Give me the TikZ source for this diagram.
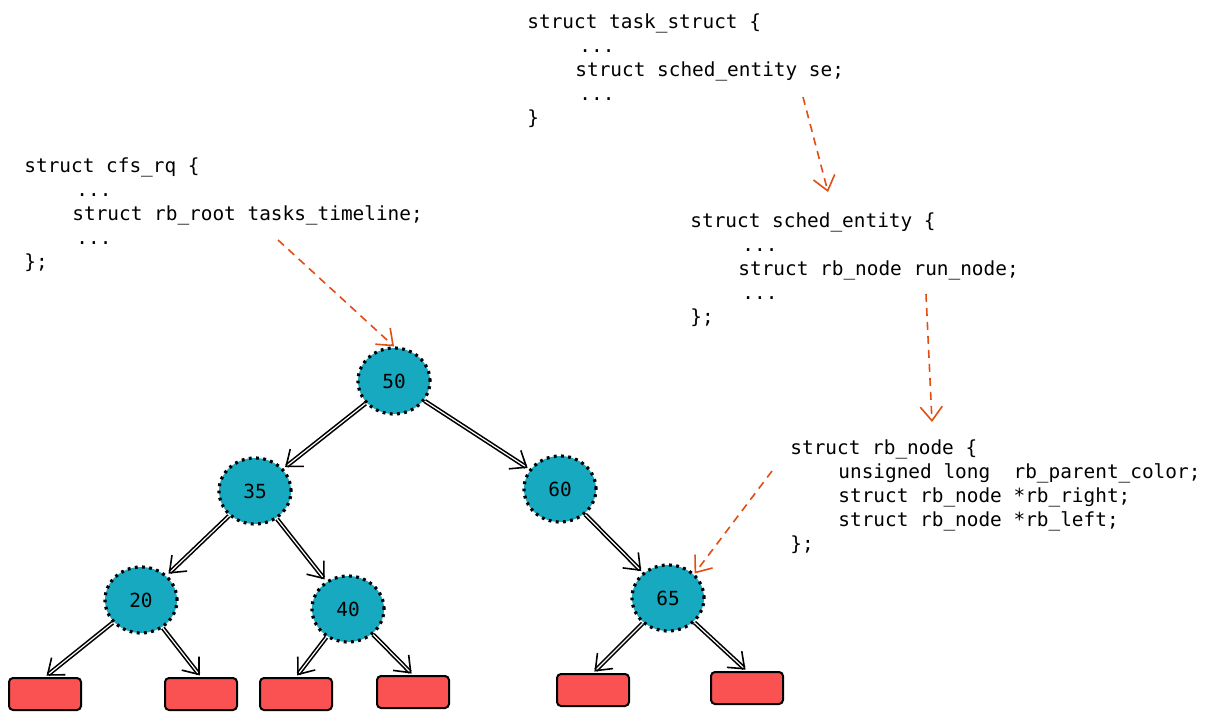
\documentclass[tikz,border=0pt]{standalone}
\usepackage{fontspec}
\setmonofont{DejaVu Sans Mono}
\usetikzlibrary{arrows.meta,shapes.geometric}
\definecolor{treeteal}{HTML}{16A9BF}
\definecolor{leafred}{HTML}{FA5252}
\definecolor{ptrorange}{HTML}{E04E14}
\tikzset{
  code/.style={anchor=north west, inner sep=0pt, align=left, font=\ttfamily\fontsize{9.7}{12}\selectfont},
  key/.style={ellipse, fill=treeteal, draw=black, line width=1.6pt, dash pattern=on 1.4pt off 2.2pt,
    minimum width=36pt, minimum height=33pt, font=\ttfamily\fontsize{9.7}{12}\selectfont},
  leaf/.style={rectangle, rounded corners=2pt, fill=leafred, draw=black, line width=1pt,
    minimum width=36pt, minimum height=16pt},
  edge/.style={double, thick, -{Straight Barb[length=7pt,width=11pt]}, shorten >=1pt},
  ptr/.style={ptrorange, thick, dash pattern=on 4pt off 3pt, -{Straight Barb[length=7pt,width=11pt]}}
}
\begin{document}
\begin{tikzpicture}[x=0.5pt,y=-0.5pt]
  \useasboundingbox (0,0) rectangle (1210,722);

  % code snippets
  \node[code] (task) at (527,13) {struct task\_struct \{\\
    \hspace*{26pt}...\\
    \hspace*{24pt}struct sched\_entity se;\\
    \hspace*{26pt}...\\
    \}};
  \node[code] (cfs) at (24,157) {struct cfs\_rq \{\\
    \hspace*{26pt}...\\
    \hspace*{24pt}struct rb\_root tasks\_timeline;\\
    \hspace*{26pt}...\\
    \};};
  \node[code] (sched) at (690,212) {struct sched\_entity \{\\
    \hspace*{26pt}...\\
    \hspace*{24pt}struct rb\_node run\_node;\\
    \hspace*{26pt}...\\
    \};};
  \node[code] (rbnode) at (790,439) {struct rb\_node \{\\
    \hspace*{24pt}unsigned long\ \ rb\_parent\_color;\\
    \hspace*{24pt}struct rb\_node *rb\_right;\\
    \hspace*{24pt}struct rb\_node *rb\_left;\\
    \};};

  % tree
  \node[key] (n50) at (394,381) {50};
  \node[key] (n35) at (255,491) {35};
  \node[key] (n60) at (560,489) {60};
  \node[key] (n20) at (141,600) {20};
  \node[key] (n40) at (348,609) {40};
  \node[key] (n65) at (668,598) {65};

  \node[leaf] (l1) at (45,694) {};
  \node[leaf] (l2) at (201,694) {};
  \node[leaf] (l3) at (296,694) {};
  \node[leaf] (l4) at (413,692) {};
  \node[leaf] (l5) at (593,690) {};
  \node[leaf] (l6) at (747,688) {};

  \draw[edge] (n50) -- (n35);
  \draw[edge] (n50) -- (n60);
  \draw[edge] (n35) -- (n20);
  \draw[edge] (n35) -- (n40);
  \draw[edge] (n60) -- (n65);
  \draw[edge] (n20) -- (l1.north);
  \draw[edge] (n20) -- (l2.north);
  \draw[edge] (n40) -- (l3.north);
  \draw[edge] (n40) -- (l4.north);
  \draw[edge] (n65) -- (l5.north);
  \draw[edge] (n65) -- (l6.north);

  % pointers
  \coordinate (p1) at (278,240);
  \coordinate (p2) at (803,97);
  \coordinate (p3) at (926,294);
  \coordinate (p4) at (772,471);
  \coordinate (s2) at (828,192);
  \coordinate (s3) at (932,422);
  \draw[ptr] (p1) -- (n50.north);
  \draw[ptr] (p2) -- (s2);
  \draw[ptr] (p3) -- (s3);
  \draw[ptr] (p4) -- (n65.north east);
\end{tikzpicture}
\end{document}
